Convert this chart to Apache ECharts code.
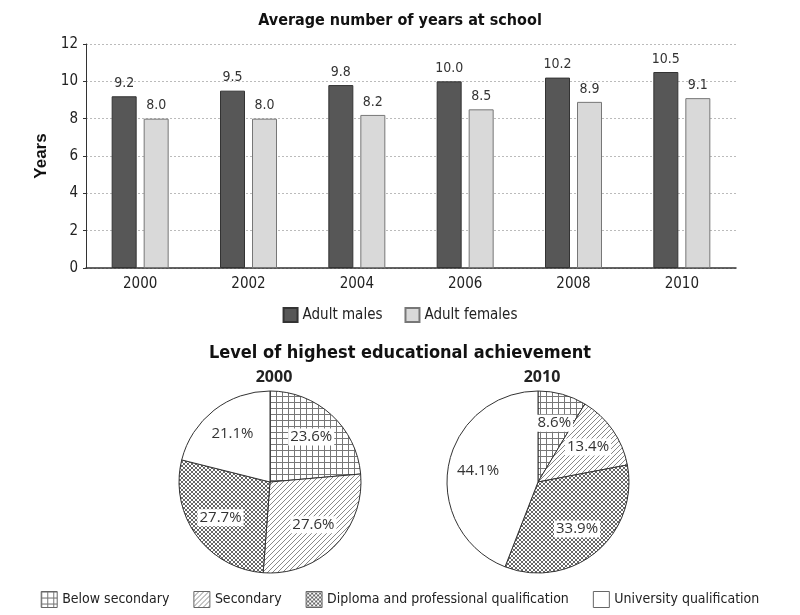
<!DOCTYPE html>
<html><head><meta charset="utf-8">
<script src="https://cdn.jsdelivr.net/npm/echarts@6/dist/echarts.min.js"></script>
<style>html,body{margin:0;padding:0;background:#fff}#c{width:800px;height:615px}</style>
</head><body><div id="c"></div>
<script>
const years = ['2000','2002','2004','2006','2008','2010'];
const males = [9.2, 9.5, 9.8, 10.0, 10.2, 10.5];
const females = [8.0, 8.0, 8.2, 8.5, 8.9, 9.1];
const levels = ['Below secondary','Secondary','Diploma and professional qualification','University qualification'];
const pie2000 = [23.6, 27.6, 27.7, 21.1];
const pie2010 = [8.6, 13.4, 33.9, 44.1];

const NARROW = "'Liberation Sans Narrow','DejaVu Sans Condensed','Roboto Condensed',sans-serif";

function pattern(type){
  const c = document.createElement('canvas');
  const s = type==='grid'?6:(type==='diag'?5:4);
  c.width = s; c.height = s;
  const g = c.getContext('2d');
  g.fillStyle = '#fff'; g.fillRect(0,0,s,s);
  if(type==='grid'){
    g.strokeStyle = '#777'; g.lineWidth = 1;
    g.beginPath(); g.moveTo(0.5,0); g.lineTo(0.5,s); g.moveTo(0,0.5); g.lineTo(s,0.5); g.stroke();
  } else if(type==='diag'){
    g.strokeStyle = '#888'; g.lineWidth = 1;
    g.beginPath(); g.moveTo(0,s); g.lineTo(s,0); g.moveTo(-1,1); g.lineTo(1,-1); g.moveTo(s-1,s+1); g.lineTo(s+1,s-1); g.stroke();
  } else if(type==='cross'){
    g.strokeStyle = '#666'; g.lineWidth = 1;
    g.beginPath(); g.moveTo(0,s); g.lineTo(s,0); g.moveTo(0,0); g.lineTo(s,s); g.stroke();
  } else {
    return '#ffffff';
  }
  return {image: c, repeat: 'repeat'};
}
const fills = [pattern('grid'), pattern('diag'), pattern('cross'), '#ffffff'];

function pieData(vals){
  return vals.map((v,i)=>({name: levels[i], value: v, itemStyle:{color: fills[i]}}));
}
function labelData(vals){
  return vals.map((v,i)=>({name: levels[i], value: v}));
}
const pieBase = {
  type:'pie', radius: 91, startAngle: 90, clockwise: true,
  label:{show:false}, labelLine:{show:false}, silent:true, animation:false,
  itemStyle:{borderColor:'#333', borderWidth:1}
};
const labelBase = {
  type:'pie', radius: 116, startAngle: 90, clockwise: true, silent:true, animation:false,
  itemStyle:{color:'rgba(0,0,0,0)', borderWidth:0},
  labelLine:{show:false},
  label:{show:true, position:'inside', formatter: p => p.value.toFixed(1)+'%',
    fontFamily:"'Open Sans',sans-serif", fontSize:15, color:'#333',
    backgroundColor:'#fff', padding:[1,2]}
};

const chart = echarts.init(document.getElementById('c'), null, {renderer:'canvas'});
chart.setOption({
  animation:false,
  backgroundColor:'#fff',
  title:[
    {text:'Average number of years at school', left:'center', top:8,
      textStyle:{fontFamily:NARROW, fontWeight:'bold', fontSize:16, color:'#111'}},
    {text:'Level of highest educational achievement', left:'center', top:339,
      textStyle:{fontFamily:NARROW, fontWeight:'bold', fontSize:18, color:'#111'}},
    {text:'2000', left:269, top:364, textAlign:'center',
      textStyle:{fontFamily:"'Open Sans',sans-serif", fontWeight:'bold', fontSize:16, color:'#222'}},
    {text:'2010', left:537, top:364, textAlign:'center',
      textStyle:{fontFamily:"'Open Sans',sans-serif", fontWeight:'bold', fontSize:16, color:'#222'}}
  ],
  legend:[
    {data:['Adult males','Adult females'], left:'center', top:302, itemWidth:14, itemHeight:14, itemGap:22,
      icon:'rect', textStyle:{fontFamily:NARROW, fontSize:15, color:'#222'}},
    {data:levels, left:'center', top:586, itemWidth:16, itemHeight:16, itemGap:24, icon:'rect',
      itemStyle:{borderColor:'#666', borderWidth:1},
      textStyle:{fontFamily:NARROW, fontSize:14, color:'#222'}}
  ],
  grid:{left:86, right:64, top:44, height:224},
  xAxis:{type:'category', data:years,
    axisLine:{lineStyle:{color:'#333', width:1.5}}, axisTick:{show:false},
    axisLabel:{fontFamily:NARROW, fontSize:15, color:'#222', margin:9}},
  yAxis:{type:'value', min:0, max:12, interval:2, name:'Years', nameLocation:'middle', nameGap:33, nameRotate:90,
    nameTextStyle:{fontFamily:"'Liberation Sans',Arial,sans-serif", fontWeight:'bold', fontSize:17, color:'#111'},
    axisLine:{show:true, lineStyle:{color:'#333'}}, axisTick:{show:true, length:3, lineStyle:{color:'#333'}},
    axisLabel:{fontFamily:NARROW, fontSize:15, color:'#222', margin:8},
    splitLine:{lineStyle:{color:'#bbb', type:[2,2]}}},
  series:[
    {name:'Adult males', type:'bar', data:males, barWidth:25, barGap:'28%',
      itemStyle:{color:'#575757', borderColor:'#333', borderWidth:1},
      label:{show:true, position:'top', distance:6, formatter:p=>p.value.toFixed(1),
        fontFamily:NARROW, fontSize:14, color:'#333'}},
    {name:'Adult females', type:'bar', data:females, barWidth:25,
      itemStyle:{color:'#d9d9d9', borderColor:'#777', borderWidth:1},
      label:{show:true, position:'top', distance:6, formatter:p=>p.value.toFixed(1),
        fontFamily:NARROW, fontSize:14, color:'#333'}},
    Object.assign({}, pieBase, {name:'2000', center:[270,482], data:pieData(pie2000)}),
    Object.assign({}, pieBase, {name:'2010', center:[538,482], data:pieData(pie2010)}),
    Object.assign({}, labelBase, {name:'2000 labels', center:[270,482], data:labelData(pie2000)}),
    Object.assign({}, labelBase, {name:'2010 labels', center:[538,482], data:labelData(pie2010)})
  ]
});
</script></body></html>
